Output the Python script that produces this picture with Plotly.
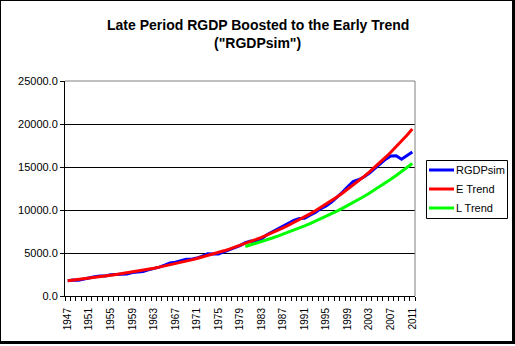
import plotly.graph_objects as go

# ---------------- data ----------------
years = list(range(1947, 2012))

rgdp_sim = [
    1776, 1854, 1843, 2004, 2159, 2242, 2332, 2319, 2476, 2524,
    2573, 2547, 2721, 2791, 2861, 3033, 3169, 3357, 3580, 3829,
    3933, 4125, 4259, 4266, 4409, 4644, 4913, 4886, 4875, 5137,
    5373, 5673, 5850, 6191, 6383, 6294, 6615, 7131, 7465, 7768,
    8060, 8438, 8788, 9002, 9031, 9389, 9711, 10162, 10476, 10929,
    11479, 12045, 12698, 13296, 13515, 13835, 14266, 14842, 15383, 15880,
    16273, 16309, 15895, 16366, 16754,
]

e_trend = [
    1780, 1848, 1918, 1991, 2067, 2145, 2227, 2312, 2400, 2491,
    2586, 2684, 2786, 2892, 3002, 3116, 3235, 3358, 3485, 3618,
    3756, 3899, 4047, 4201, 4361, 4526, 4699, 4877, 5063, 5255,
    5455, 5663, 5878, 6102, 6334, 6575, 6825, 7085, 7354, 7634,
    7924, 8226, 8538, 8863, 9200, 9550, 9914, 10291, 10682, 11089,
    11510, 11948, 12403, 12875, 13365, 13873, 14401, 14948, 15517, 16107,
    16720, 17356, 18016, 18702, 19413,
]

l_years = list(range(1980, 2012))
l_trend = [
    5750, 5936, 6128, 6326, 6530, 6741, 6959, 7184, 7416, 7655,
    7903, 8158, 8422, 8694, 8975, 9265, 9564, 9873, 10192, 10521,
    10861, 11212, 11574, 11948, 12334, 12733, 13144, 13569, 14007, 14460,
    14927, 15409,
]

series_names = ["RGDPsim", "E Trend", "L Trend"]
series_colors = ["#0000ff", "#ff0000", "#00ff00"]

label_years = years[::4]
y_ticks = [0, 5000, 10000, 15000, 20000, 25000]

title_line1 = "Late Period RGDP Boosted to the Early Trend"
title_line2 = '("RGDPsim")'

# ---------------- geometry (pixels) ----------------
W, H = 515, 346
L, R, T, B = 65, 100, 81, 50
PW, PH = W - L - R, H - T - B


def px(x):
    return (x - L) / PW


def py(y):
    return (H - B - y) / PH


FONT = "Arial, Liberation Sans, sans-serif"

fig = go.Figure()
xs = [years, years, l_years]
ys = [rgdp_sim, e_trend, l_trend]
for name, color, xv, yv in zip(series_names, series_colors, xs, ys):
    fig.add_trace(go.Scatter(x=xv, y=yv, mode="lines", name=name,
                             line=dict(color=color, width=3)))

shapes = [
    # plot area border (top, right) in gray
    dict(type="line", xref="paper", yref="paper", x0=0, x1=1, y0=1, y1=1,
         line=dict(color="#808080", width=1), layer="above"),
    dict(type="line", xref="paper", yref="paper", x0=1, x1=1, y0=0, y1=1,
         line=dict(color="#808080", width=1), layer="above"),
    # chart outer border
    dict(type="line", xref="paper", yref="paper", x0=px(0.5), x1=px(0.5), y0=py(0), y1=py(344),
         line=dict(color="black", width=1)),
    dict(type="line", xref="paper", yref="paper", x0=px(0), x1=px(515), y0=py(0.5), y1=py(0.5),
         line=dict(color="black", width=1)),
    dict(type="line", xref="paper", yref="paper", x0=px(513.5), x1=px(513.5), y0=py(0), y1=py(344),
         line=dict(color="black", width=3)),
    dict(type="line", xref="paper", yref="paper", x0=px(0), x1=px(515), y0=py(342.5), y1=py(342.5),
         line=dict(color="black", width=3)),
    # legend box
    dict(type="rect", xref="paper", yref="paper", x0=px(426.5), x1=px(507.5), y0=py(160.5), y1=py(218.5),
         line=dict(color="black", width=1), fillcolor="white"),
]

annotations = [
    dict(text="<b>" + title_line1 + "</b>", xref="paper", yref="paper",
         x=px(257.5), y=py(25), xanchor="center", yanchor="middle", showarrow=False,
         font=dict(family=FONT, size=14, color="black")),
    dict(text="<b>" + title_line2 + "</b>", xref="paper", yref="paper",
         x=px(257.5), y=py(43), xanchor="center", yanchor="middle", showarrow=False,
         font=dict(family=FONT, size=14, color="black")),
]

# legend entries (custom, to match the original box)
legend_rows = [170, 189, 208]
for name, color, row in zip(series_names, series_colors, legend_rows):
    shapes.append(dict(type="line", xref="paper", yref="paper",
                       x0=px(429), x1=px(454), y0=py(row), y1=py(row),
                       line=dict(color=color, width=3)))
    annotations.append(dict(text=name, xref="paper", yref="paper",
                            x=px(454), y=py(row), xanchor="left", yanchor="middle",
                            showarrow=False, font=dict(family=FONT, size=11, color="black")))

fig.update_layout(
    width=W, height=H, autosize=False,
    margin=dict(l=L, r=R, t=T, b=B, pad=0, autoexpand=False),
    paper_bgcolor="white", plot_bgcolor="white",
    font=dict(family=FONT, size=11, color="black"),
    shapes=shapes, annotations=annotations,
    showlegend=False,
    xaxis=dict(
        range=[1946.5, 2011.5], showgrid=False, zeroline=False,
        showline=True, linecolor="black", linewidth=1,
        tickmode="array", tickvals=label_years, ticktext=[str(y) for y in label_years],
        tickangle=-90, ticks="outside", ticklen=0,
        tickfont=dict(family=FONT, size=10, color="black"),
        ticklabelstandoff=7,
        minor=dict(tickmode="array", tickvals=[y - 0.5 for y in years] + [2011.5],
                   ticks="outside", ticklen=4, tickcolor="black", tickwidth=1, showgrid=False),
    ),
    yaxis=dict(
        range=[0, 25000], tickmode="array", tickvals=y_ticks,
        tickformat=".1f", showgrid=True, gridcolor="black", gridwidth=1,
        zeroline=False, showline=True, linecolor="black", linewidth=1,
        ticks="outside", ticklen=4, tickcolor="black",
        tickfont=dict(family=FONT, size=11, color="black"),
    ),
)

fig.write_html("out.html")
